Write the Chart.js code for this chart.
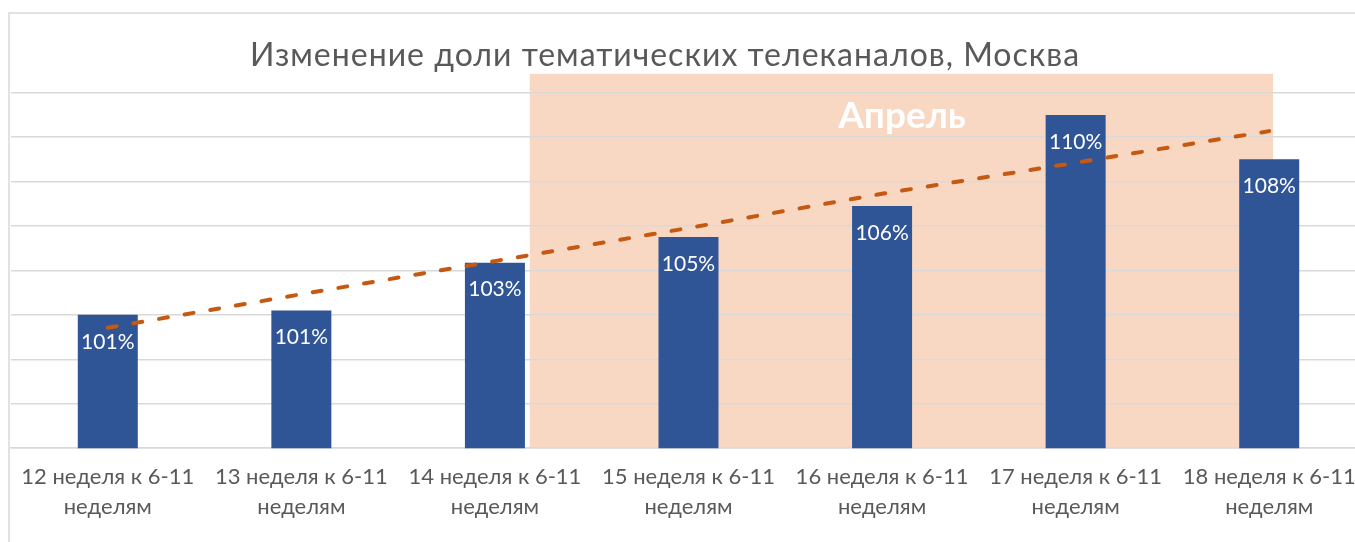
<!DOCTYPE html>
<html>
<head>
<meta charset="utf-8">
<script src="https://cdn.jsdelivr.net/npm/chart.js@4/dist/chart.umd.min.js"></script>
<style>
  html, body { margin: 0; padding: 0; background: #fff; overflow: hidden; }
  #wrap { position: relative; width: 1380px; height: 542px; }
</style>
</head>
<body>
<div id="wrap"><canvas id="chart" width="1380" height="542"></canvas></div>
<script>
// data
var weeks = ['12', '13', '14', '15', '16', '17', '18'];
var shares = [1.010, 1.012, 1.0335, 1.045, 1.059, 1.100, 1.080];
var trend = [1.0042, 1.0193, 1.0342, 1.0491, 1.0645, 1.0785, 1.0927];
var chartTitle = 'Изменение доли тематических телеканалов, Москва';
var bandLabel = 'Апрель';

var labels = weeks.map(function (w) { return [w + ' неделя к 6-11', 'неделям']; });

var FONT = 'Lato, "Open Sans", sans-serif';

// april band sits behind grid lines, drawn before anything else
var bandPlugin = {
    id: 'band',
    beforeDraw: function (chart) {
        var ctx = chart.ctx, x = chart.scales.x, y = chart.scales.y;
        var left = x.getPixelForValue(2.18), right = x.getPixelForValue(6.02);
        var top = y.getPixelForValue(1.1185), bottom = y.getPixelForValue(0.95);
        ctx.save();
        ctx.fillStyle = '#f8d8c2';
        ctx.fillRect(left, top, right - left, bottom - top);
        ctx.fillStyle = '#ffffff';
        ctx.font = 'bold 37px ' + FONT;
        ctx.textAlign = 'center';
        ctx.textBaseline = 'alphabetic';
        ctx.fillText(bandLabel, 902, 128);
        ctx.restore();

        // outer frame (cropped on the right and bottom)
        ctx.save();
        ctx.strokeStyle = '#d9d9d9';
        ctx.lineWidth = 1.5;
        ctx.beginPath();
        ctx.moveTo(9, 560);
        ctx.lineTo(9, 13);
        ctx.lineTo(1400, 13);
        ctx.stroke();

        ctx.fillStyle = '#595959';
        ctx.font = '32px ' + FONT;
        ctx.letterSpacing = '1px';
        ctx.textAlign = 'center';
        ctx.textBaseline = 'alphabetic';
        ctx.fillText(chartTitle, 665, 66);
        ctx.restore();
    },
    afterDatasetsDraw: function (chart) {
        var ctx = chart.ctx;
        var meta = chart.getDatasetMeta(0);
        ctx.save();
        ctx.fillStyle = '#ffffff';
        ctx.font = '21px ' + FONT;
        ctx.textAlign = 'center';
        ctx.textBaseline = 'middle';
        meta.data.forEach(function (bar, i) {
            ctx.fillText(Math.round(shares[i] * 100) + '%', bar.x, bar.y + 27);
        });
        ctx.restore();
    }
};

new Chart(document.getElementById('chart'), {
    type: 'bar',
    data: {
        labels: labels,
        datasets: [{
            type: 'bar',
            data: shares,
            backgroundColor: '#2f5597',
            categoryPercentage: 1,
            barPercentage: 0.31,
            order: 2
        }, {
            type: 'line',
            data: trend,
            borderColor: '#c65911',
            borderWidth: 4,
            borderDash: [9, 17],
            borderCapStyle: 'round',
            pointRadius: 0,
            fill: false,
            order: 1
        }]
    },
    plugins: [bandPlugin],
    options: {
        responsive: false,
        animation: false,
        layout: { padding: { left: 11, right: 14, top: 92.7, bottom: 6 } },
        plugins: {
            legend: { display: false },
            tooltip: { enabled: false },
            title: { display: false }
        },
        scales: {
            x: {
                grid: { display: false, drawTicks: false },
                border: { color: '#d9d9d9', width: 1.5 },
                ticks: {
                    color: '#595959',
                    font: { family: FONT, size: 22, lineHeight: 1.36 },
                    padding: 14,
                    maxRotation: 0,
                    autoSkip: false
                }
            },
            y: {
                min: 0.95,
                max: 1.11,
                ticks: { display: false, stepSize: 0.02 },
                grid: { color: '#d9d9d9', lineWidth: 1.5, drawTicks: false },
                border: { display: false }
            }
        }
    }
});
</script>
</body>
</html>
